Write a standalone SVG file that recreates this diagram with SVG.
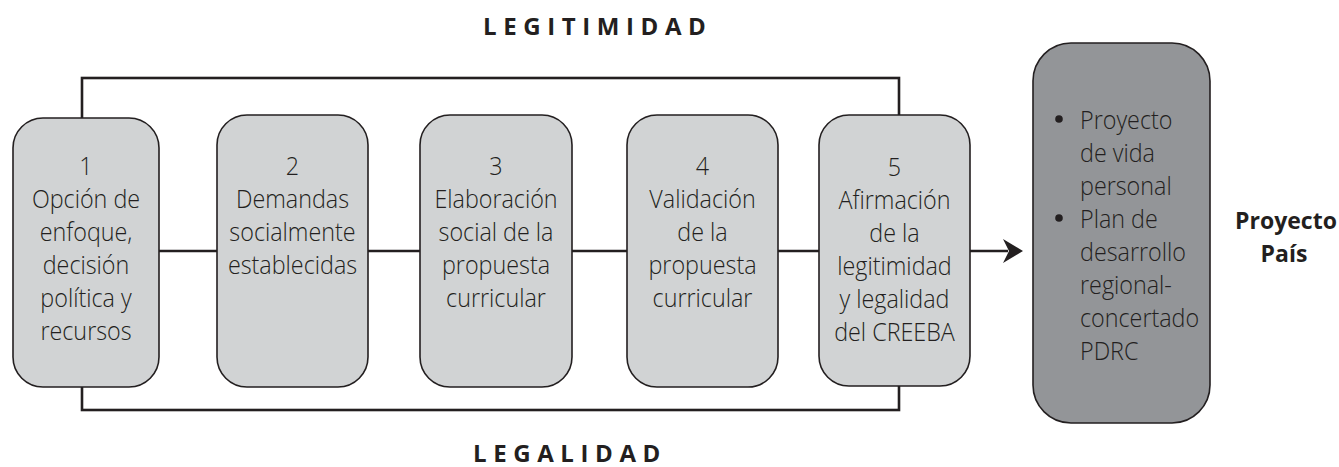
<svg xmlns="http://www.w3.org/2000/svg" width="1339" height="467" viewBox="0 0 1339 467">
<style>
.frame{fill:none;stroke:#231f20;stroke-width:2.6}
.conn{fill:none;stroke:#231f20;stroke-width:2.4}
.box{fill:#d1d3d4;stroke:#231f20;stroke-width:1.6}
.dark{fill:#939598;stroke:#231f20;stroke-width:1.6}
.t{font-family:"Open Sans","Liberation Sans",sans-serif;font-weight:300;font-size:26.5px;fill:#231f20;text-anchor:middle}
.tl{font-family:"Open Sans","Liberation Sans",sans-serif;font-weight:300;font-size:26.5px;fill:#231f20}
.h{font-family:"Open Sans","Liberation Sans",sans-serif;font-weight:700;font-size:24px;fill:#231f20;letter-spacing:6.6px}
.b{font-family:"Open Sans","Liberation Sans",sans-serif;font-weight:700;font-size:23px;fill:#231f20;text-anchor:middle}
</style>
<rect width="1339" height="467" fill="#ffffff"/>
<g id="connectors">
<rect class="frame" x="82" y="78" width="817" height="332"/>
<line class="conn" x1="159" y1="251" x2="1008" y2="251"/>
<path d="M1023,251 L1003,239 L1009,251 L1003,263 Z" fill="#231f20"/>
</g>
<g id="label-legitimidad"><text class="h" x="483" y="35">LEGITIMIDAD</text></g>
<g id="label-legalidad"><text class="h" x="473" y="462">LEGALIDAD</text></g>
<g id="node1">
<rect class="box" x="13" y="118" width="146" height="269" rx="30"/>
<g transform="translate(86 0) scale(0.88 1)">
<text class="t" x="0" y="175">1</text>
<text class="t" x="0" y="208">Opción de</text>
<text class="t" x="0" y="241">enfoque,</text>
<text class="t" x="0" y="274">decisión</text>
<text class="t" x="0" y="307">política y</text>
<text class="t" x="0" y="340">recursos</text>
</g>
</g>
<g id="node2">
<rect class="box" x="217" y="115" width="151" height="272" rx="30"/>
<g transform="translate(292.5 0) scale(0.88 1)">
<text class="t" x="0" y="175">2</text>
<text class="t" x="0" y="208">Demandas</text>
<text class="t" x="0" y="241">socialmente</text>
<text class="t" x="0" y="274">establecidas</text>
</g>
</g>
<g id="node3">
<rect class="box" x="420" y="115" width="152" height="272" rx="30"/>
<g transform="translate(496 0) scale(0.88 1)">
<text class="t" x="0" y="175">3</text>
<text class="t" x="0" y="208">Elaboración</text>
<text class="t" x="0" y="241">social de la</text>
<text class="t" x="0" y="274">propuesta</text>
<text class="t" x="0" y="307">curricular</text>
</g>
</g>
<g id="node4">
<rect class="box" x="627" y="115" width="151" height="272" rx="30"/>
<g transform="translate(702.5 0) scale(0.88 1)">
<text class="t" x="0" y="175">4</text>
<text class="t" x="0" y="208">Validación</text>
<text class="t" x="0" y="241">de la</text>
<text class="t" x="0" y="274">propuesta</text>
<text class="t" x="0" y="307">curricular</text>
</g>
</g>
<g id="node5">
<rect class="box" x="819" y="115" width="151" height="271" rx="30"/>
<g transform="translate(894.5 0) scale(0.88 1)">
<text class="t" x="0" y="176">5</text>
<text class="t" x="0" y="209">Afirmación</text>
<text class="t" x="0" y="242">de la</text>
<text class="t" x="0" y="275">legitimidad</text>
<text class="t" x="0" y="308">y legalidad</text>
<text class="t" x="0" y="341">del CREEBA</text>
</g>
</g>
<g id="node6">
<rect class="dark" x="1033" y="43" width="177" height="380" rx="38"/>
<circle cx="1059" cy="119" r="3.8" fill="#231f20"/>
<circle cx="1059" cy="218" r="3.8" fill="#231f20"/>
<g transform="translate(1080 0) scale(0.88 1)">
<text class="tl" x="0" y="129">Proyecto</text>
<text class="tl" x="0" y="162">de vida</text>
<text class="tl" x="0" y="195">personal</text>
<text class="tl" x="0" y="228">Plan de</text>
<text class="tl" x="0" y="261">desarrollo</text>
<text class="tl" x="0" y="294">regional-</text>
<text class="tl" x="0" y="327">concertado</text>
<text class="tl" x="0" y="360">PDRC</text>
</g>
</g>
<g id="node7">
<text class="b" x="1286" y="229">Proyecto</text>
<text class="b" x="1284" y="262">País</text>
</g>
</svg>
